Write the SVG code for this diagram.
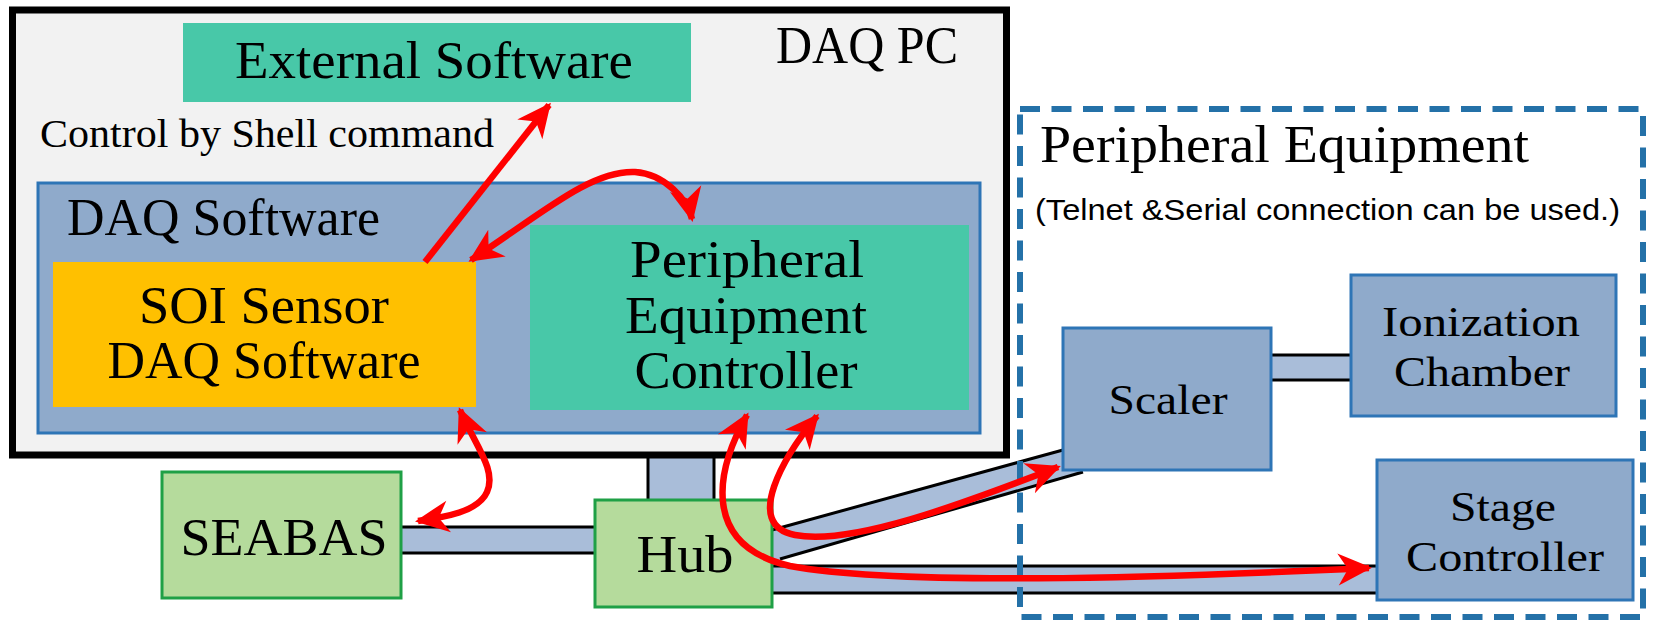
<svg xmlns="http://www.w3.org/2000/svg" width="1653" height="620" viewBox="0 0 1653 620">
<style>
.serif{font-family:"Liberation Serif","Times New Roman",serif;fill:#000}
.sans{font-family:"Liberation Sans",Arial,sans-serif;fill:#000}
.teal{fill:#48C8A8}
.blue{fill:#8FAACB;stroke:#2E75B6;stroke-width:3}
.green{fill:#B5DB9C;stroke:#1FA046;stroke-width:3}
.pipe{fill:#A9BDD9;stroke:none}
.pline{stroke:#000;stroke-width:3;fill:none}
.red{fill:none;stroke:#FF0000;stroke-width:6.5;stroke-linecap:butt}
</style>
<defs>
<marker id="ah" markerUnits="userSpaceOnUse" viewBox="-38 -20 42 40" markerWidth="42" markerHeight="40" refX="-3" refY="0" orient="auto-start-reverse">
<path d="M0,0 L-34,-16 L-24,0 L-34,16 Z" fill="#FF0000"/>
</marker>
</defs>
<rect x="0" y="0" width="1653" height="620" fill="#FFFFFF"/>

<g id="pipes">
<rect class="pipe" x="401" y="527" width="194" height="26"/>
<line class="pline" x1="401" y1="527" x2="595" y2="527"/>
<line class="pline" x1="401" y1="553" x2="595" y2="553"/>
<rect class="pipe" x="648" y="450" width="66" height="50"/>
<line class="pline" x1="648" y1="450" x2="648" y2="500"/>
<line class="pline" x1="714" y1="450" x2="714" y2="500"/>
<rect class="pipe" x="772" y="566" width="605" height="27"/>
<line class="pline" x1="772" y1="566" x2="1377" y2="566"/>
<line class="pline" x1="772" y1="593" x2="1377" y2="593"/>
<polygon class="pipe" points="772,530 1063,450 1083,472 772,562"/>
<line class="pline" x1="772" y1="530" x2="1063" y2="450"/>
<line class="pline" x1="780" y1="559" x2="1083" y2="472"/>
<rect class="pipe" x="1271" y="355" width="80" height="25"/>
<line class="pline" x1="1271" y1="355" x2="1351" y2="355"/>
<line class="pline" x1="1271" y1="380" x2="1351" y2="380"/>
</g>

<g id="daq-pc">
<rect x="12.5" y="10" width="994" height="445" fill="#F2F2F2" stroke="#000" stroke-width="7"/>
<text class="serif" x="776" y="63" font-size="52" textLength="182" lengthAdjust="spacingAndGlyphs">DAQ PC</text>
<text class="serif" x="40" y="147" font-size="40" textLength="454" lengthAdjust="spacingAndGlyphs">Control by Shell command</text>
</g>

<g id="external-software">
<rect class="teal" x="183" y="23" width="508" height="79"/>
<text class="serif" x="235" y="78" font-size="53" textLength="398" lengthAdjust="spacingAndGlyphs">External Software</text>
</g>

<g id="daq-software">
<rect class="blue" x="38" y="183" width="942" height="250"/>
<text class="serif" x="67" y="235" font-size="52" textLength="313" lengthAdjust="spacingAndGlyphs">DAQ Software</text>
</g>

<g id="soi-sensor">
<rect x="53" y="262" width="423" height="145" fill="#FFC000"/>
<text class="serif" x="264" y="323" font-size="52" text-anchor="middle" textLength="250" lengthAdjust="spacingAndGlyphs">SOI Sensor</text>
<text class="serif" x="264" y="378" font-size="52" text-anchor="middle" textLength="313" lengthAdjust="spacingAndGlyphs">DAQ Software</text>
</g>

<g id="peripheral-controller">
<rect class="teal" x="530" y="225" width="439" height="185"/>
<text class="serif" x="747" y="277" font-size="52" text-anchor="middle" textLength="234" lengthAdjust="spacingAndGlyphs">Peripheral</text>
<text class="serif" x="746" y="333" font-size="52" text-anchor="middle" textLength="242" lengthAdjust="spacingAndGlyphs">Equipment</text>
<text class="serif" x="746" y="388" font-size="52" text-anchor="middle" textLength="223" lengthAdjust="spacingAndGlyphs">Controller</text>
</g>

<g id="seabas">
<rect class="green" x="162" y="472" width="239" height="126"/>
<text class="serif" x="284" y="555" font-size="52" text-anchor="middle" textLength="207" lengthAdjust="spacingAndGlyphs">SEABAS</text>
</g>

<g id="hub">
<rect class="green" x="595" y="500" width="177" height="107"/>
<text class="serif" x="685" y="572" font-size="52" text-anchor="middle" textLength="97" lengthAdjust="spacingAndGlyphs">Hub</text>
</g>

<g id="peripheral-equipment">
<rect x="1020" y="109" width="623" height="508" fill="none" stroke="#2471A8" stroke-width="6" stroke-dasharray="20 11.5"/>
<text class="serif" x="1040" y="162" font-size="52" textLength="489" lengthAdjust="spacingAndGlyphs">Peripheral Equipment</text>
<text class="sans" x="1035" y="220" font-size="29" textLength="585" lengthAdjust="spacingAndGlyphs">(Telnet &amp;Serial connection can be used.)</text>
</g>

<g id="scaler">
<rect class="blue" x="1063" y="328" width="208" height="142"/>
<text class="serif" x="1168" y="414" font-size="42" text-anchor="middle" textLength="119" lengthAdjust="spacingAndGlyphs">Scaler</text>
</g>

<g id="ionization-chamber">
<rect class="blue" x="1351" y="275" width="265" height="141"/>
<text class="serif" x="1481" y="336" font-size="42" text-anchor="middle" textLength="198" lengthAdjust="spacingAndGlyphs">Ionization</text>
<text class="serif" x="1482" y="386" font-size="42" text-anchor="middle" textLength="176" lengthAdjust="spacingAndGlyphs">Chamber</text>
</g>

<g id="stage-controller">
<rect class="blue" x="1377" y="460" width="256" height="140"/>
<text class="serif" x="1503" y="521" font-size="42" text-anchor="middle" textLength="106" lengthAdjust="spacingAndGlyphs">Stage</text>
<text class="serif" x="1505" y="571" font-size="42" text-anchor="middle" textLength="198" lengthAdjust="spacingAndGlyphs">Controller</text>
</g>

<g id="connectors">
<path class="red" d="M425,262 L549,105" marker-end="url(#ah)"/>
<path class="red" d="M471,260 C 540,215 590,170 635,172 C 665,174 688,200 692,219" marker-start="url(#ah)" marker-end="url(#ah)"/>
<path class="red" d="M460,410 C 475,445 497,470 487,492 C 478,512 445,517 418,521" marker-start="url(#ah)" marker-end="url(#ah)"/>
<path class="red" d="M747,415 C 716,470 700,545 790,566 C 900,586 1150,578 1369,568" marker-start="url(#ah)" marker-end="url(#ah)"/>
<path class="red" d="M817,416 C 785,455 742,525 795,535 C 850,546 960,505 1058,467" marker-start="url(#ah)" marker-end="url(#ah)"/>
</g>
</svg>
